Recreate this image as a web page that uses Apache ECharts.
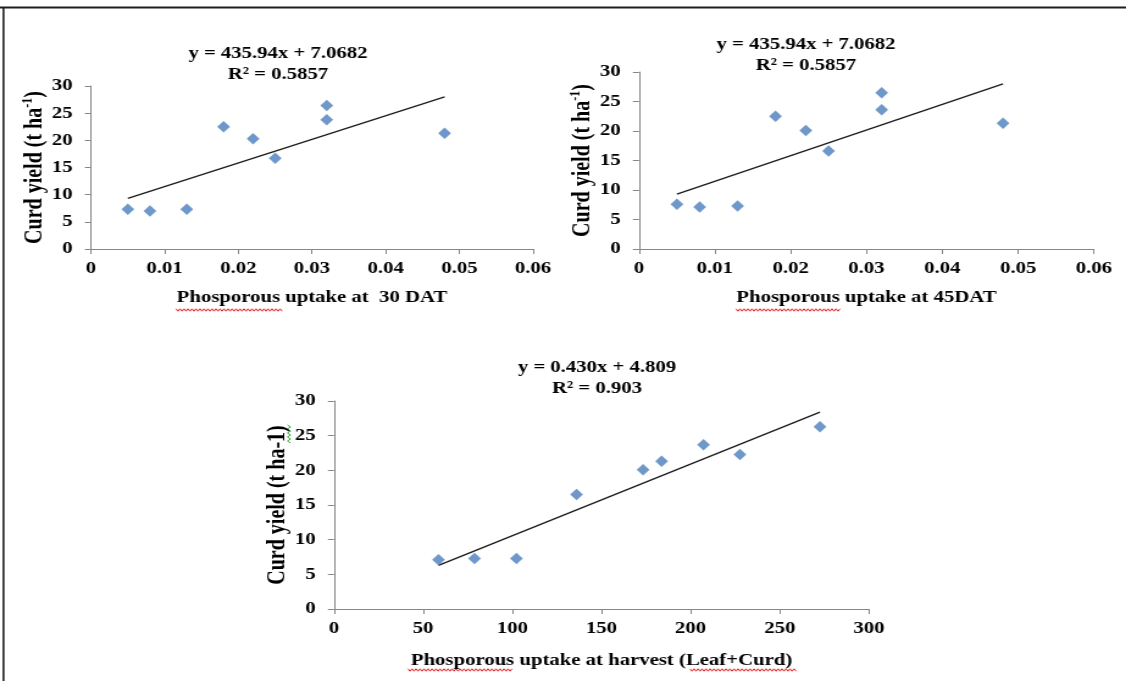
<!DOCTYPE html>
<html>
<head>
<meta charset="utf-8">
<title>Curd yield vs phosphorous uptake</title>
<script src="https://cdn.jsdelivr.net/npm/echarts@6/dist/echarts.min.js"></script>
<style>
  html, body { margin: 0; padding: 0; background: #fff; overflow: hidden; }
  /* the source picture is stretched sideways, so the chart is drawn narrow and widened */
  #main { width: 923px; height: 681px; transform: scaleX(1.22); transform-origin: 0 0; }
</style>
</head>
<body>
<div id="main"></div>
<script>
// ---- data ----
const uptake30 = [0.005, 0.008, 0.013, 0.018, 0.022, 0.025, 0.032, 0.032, 0.048]
const yield30 = [7.3, 7.0, 7.3, 22.5, 20.3, 16.7, 26.4, 23.8, 21.3]
const trend30X = [0.005, 0.048]
const trend30Y = [9.3, 28.0]

const uptake45 = [0.005, 0.008, 0.013, 0.018, 0.022, 0.025, 0.032, 0.032, 0.048]
const yield45 = [7.6, 7.1, 7.3, 22.5, 20.1, 16.6, 26.5, 23.6, 21.3]
const trend45X = [0.005, 0.048]
const trend45Y = [9.3, 28.0]

const uptakeHarvest = [58.6, 78.8, 102.3, 136.0, 173.3, 183.7, 207.2, 227.6, 272.5]
const yieldHarvest = [7.1, 7.3, 7.3, 16.5, 20.1, 21.3, 23.7, 22.3, 26.3]
const trendHarvestX = [58.6, 272.5]
const trendHarvestY = [6.3, 28.4]

const equations = ['y = 435.94x + 7.0682', 'y = 435.94x + 7.0682', 'y = 0.430x + 4.809']
const rSquared = ['R² = 0.5857', 'R² = 0.5857', 'R² = 0.903']
const xNames = ['Phosporous uptake at  30 DAT', 'Phosporous uptake at 45DAT', 'Phosporous uptake at harvest (Leaf+Curd)']
const yNames = ['{n|Curd yield (t ha}{sup|-1}{n|)}', '{n|Curd yield (t ha}{sup|-1}{n|)}', '{n|Curd yield (t ha-1)}']

const SX = 1.22            // horizontal stretch of the page
const sx = v => v / SX     // screen x -> chart x
const FONT = '"Liberation Serif", "Times New Roman", serif'
const AXIS_GRAY = '#868686'
const POINT_BLUE = '#4a7ebb'

const chart = echarts.init(document.getElementById('main'))

// screen boxes of the three plot areas
const boxes = [
  { l: 91, r: 533, t: 86, b: 249 },
  { l: 639, r: 1094, t: 72, b: 249 },
  { l: 334, r: 869, t: 401, b: 609 }
]

const grids = boxes.map(b => ({
  left: sx(b.l),
  top: b.t,
  width: sx(b.r) - sx(b.l),
  height: b.b - b.t
}))

const labelStyle = {
  color: '#000',
  fontFamily: FONT,
  fontWeight: 'bold',
  fontSize: 17
}

const xMax = [0.06, 0.06, 300]
const xStep = [0.01, 0.01, 50]
const xGaps = [40, 40, 43]

const xAxes = xMax.map((max, i) => ({
  type: 'value',
  gridIndex: i,
  min: 0,
  max: max,
  interval: xStep[i],
  name: xNames[i],
  nameLocation: 'middle',
  nameGap: xGaps[i],
  nameTextStyle: labelStyle,
  axisLine: { lineStyle: { color: AXIS_GRAY, width: 1 } },
  axisTick: { show: true, length: 5, lineStyle: { color: AXIS_GRAY } },
  axisLabel: Object.assign({ margin: 11 }, labelStyle),
  splitLine: { show: false }
}))

const yAxes = [0, 1, 2].map(i => ({
  type: 'value',
  gridIndex: i,
  min: 0,
  max: 30,
  interval: 5,
  name: yNames[i],
  nameLocation: 'middle',
  nameGap: 30,
  nameRotate: 90,
  nameTextStyle: {
    rich: {
      n: { fontFamily: FONT, fontWeight: 'bold', fontSize: 20, color: '#000', lineHeight: 22, verticalAlign: 'bottom' },
      sup: { fontFamily: FONT, fontWeight: 'bold', fontSize: 12, color: '#000', lineHeight: 14, verticalAlign: 'top' }
    }
  },
  axisLine: { show: true, lineStyle: { color: AXIS_GRAY, width: 1 } },
  axisTick: { show: true, length: 5, lineStyle: { color: AXIS_GRAY } },
  axisLabel: Object.assign({ margin: 15 }, labelStyle),
  splitLine: { show: false }
}))

const pairs = (xs, ys) => xs.map((x, k) => [x, ys[k]])

const pointSets = [pairs(uptake30, yield30), pairs(uptake45, yield45), pairs(uptakeHarvest, yieldHarvest)]
const trendSets = [pairs(trend30X, trend30Y), pairs(trend45X, trend45Y), pairs(trendHarvestX, trendHarvestY)]

const series = []
pointSets.forEach((pts, i) => {
  series.push({
    type: 'line',
    xAxisIndex: i,
    yAxisIndex: i,
    data: trendSets[i],
    symbol: 'none',
    silent: true,
    lineStyle: { color: '#1c1c1c', width: 1.3 },
    z: 2
  })
  series.push({
    type: 'scatter',
    xAxisIndex: i,
    yAxisIndex: i,
    data: pts,
    symbol: 'diamond',
    symbolSize: [10.5, 11.5],
    itemStyle: { color: POINT_BLUE },
    z: 3
  })
})

// equation + R² above each plot (screen centre x, top y)
const titlePos = [[278, 43], [806, 34], [597, 357]]
const titles = titlePos.map((p, i) => ({
  type: 'text',
  x: sx(p[0]),
  y: p[1],
  silent: true,
  style: {
    text: equations[i] + '\n' + rSquared[i],
    font: 'bold 17px ' + FONT,
    fill: '#000',
    align: 'center',
    verticalAlign: 'top',
    textAlign: 'center',
    textVerticalAlign: 'top',
    lineHeight: 21
  }
}))

// spell-check squiggles under words, as in the source document
const squiggle = (x0, x1, y, color) => {
  const points = []
  let up = true
  for (let x = x0; x <= x1; x += 2) {
    points.push([sx(x), y + (up ? -1.2 : 1.2)])
    up = !up
  }
  return { type: 'polyline', silent: true, shape: { points }, style: { stroke: color, lineWidth: 1, fill: null } }
}
const vSquiggle = (x, y0, y1, color) => {
  const points = []
  let left = true
  for (let y = y0; y <= y1; y += 2) {
    points.push([sx(x + (left ? -1.5 : 1.5)), y])
    left = !left
  }
  return { type: 'polyline', silent: true, shape: { points }, style: { stroke: color, lineWidth: 1, fill: null } }
}

const decorations = [
  // page frame (top and left edges)
  { type: 'line', silent: true, shape: { x1: 0, y1: 7.5, x2: 923, y2: 7.5 }, style: { stroke: '#1e1e1e', lineWidth: 2 } },
  { type: 'line', silent: true, shape: { x1: sx(3.5), y1: 7, x2: sx(3.5), y2: 681 }, style: { stroke: '#1e1e1e', lineWidth: 1.6 } },
  squiggle(176, 283, 310, '#e02020'),
  squiggle(736, 840, 310, '#e02020'),
  squiggle(408, 512, 670, '#e02020'),
  squiggle(690, 796, 670, '#e02020'),
  vSquiggle(289, 425, 443, '#3aa83a')
]

chart.setOption({
  backgroundColor: '#fff',
  animation: false,
  grid: grids,
  xAxis: xAxes,
  yAxis: yAxes,
  series: series,
  graphic: titles.concat(decorations)
})
</script>
</body>
</html>
